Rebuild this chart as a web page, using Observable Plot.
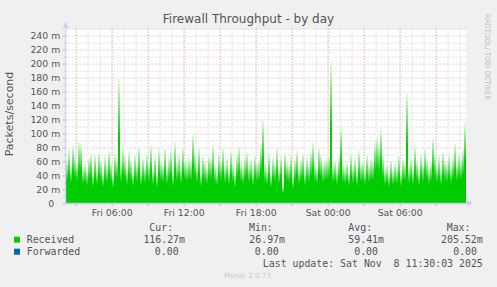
<!DOCTYPE html>
<html><head><meta charset="utf-8">
<script src="https://cdn.jsdelivr.net/npm/d3@7"></script>
<script src="https://cdn.jsdelivr.net/npm/@observablehq/plot@0.6"></script>
<style>
html,body{margin:0;padding:0;background:#f0f0f0;}
#wrap{position:relative;width:497px;height:287px;overflow:hidden;background:#f0f0f0;}
#wrap svg{position:absolute;left:0;top:0;}
</style></head><body><div id="wrap"></div>
<script>
// Received packets/second (milli), one value per 10-minute sample, Fri 02:10 -> Sat 11:30 (UTC)
const received = [
  62, 78, 55, 84, 70, 60, 88, 86, 52, 58,
  48, 66, 72, 45, 70, 50, 74, 62, 44, 68,
  55, 76, 60, 42, 72, 65, 180, 58, 80, 68,
  50, 75, 62, 46, 70, 58, 82, 48, 66, 54,
  72, 60, 84, 50, 68, 44, 78, 62, 56, 80,
  52, 66, 76, 48, 88, 60, 70, 54, 82, 64,
  58, 66, 62, 100, 74, 56, 80, 46, 68, 60,
  52, 70, 64, 84, 56, 48, 72, 62, 80, 54,
  66, 50, 76, 58, 44, 70, 82, 60, 52, 68,
  74, 56, 64, 48, 70, 60, 62, 85, 120, 58,
  50, 72, 44, 66, 58, 80, 52, 68, 27, 74,
  60, 56, 70, 40, 64, 76, 52, 62, 72, 48,
  66, 58, 74, 88, 60, 52, 80, 70, 56, 62,
  64, 70, 205.52, 56, 62, 50, 68, 112, 58, 52,
  60, 46, 72, 54, 66, 48, 76, 58, 62, 50,
  70, 56, 64, 62, 88, 96, 84, 108, 70, 50,
  56, 44, 62, 48, 58, 52, 70, 46, 64, 60,
  160, 54, 66, 50, 83, 62, 48, 70, 58, 79,
  64, 52, 60, 95, 72, 56, 68, 50, 74, 62,
  58, 70, 54, 66, 86, 60, 72, 64, 78, 116.27
];
const startTime = Date.UTC(2025, 10, 7, 2, 10);
const endTime = Date.UTC(2025, 10, 8, 11, 30);
const stepMs = 10 * 60 * 1000;
const yTicks = [0, 20, 40, 60, 80, 100, 120, 140, 160, 180, 200, 220, 240];
const yMinorTicks = [10, 30, 50, 70, 90, 110, 130, 150, 170, 190, 210, 230, 250];
const yMax = 250;

const titleText = "Firewall Throughput - by day";
const yLabelText = "Packets/second";
const watermarkText = "RRDTOOL/ TOBI OETIKER";
const seriesNames = ["Received", "Forwarded"];
const seriesColors = ["#00cc00", "#0066b3"];
const statHeaders = ["Cur:", "Min:", "Avg:", "Max:"];
const receivedStats = ["116.27m", "26.97m", "59.41m", "205.52m"];
const forwardedStats = ["0.00", "0.00", "0.00", "0.00"];
const lastUpdateText = "Last update: Sat Nov  8 11:30:03 2025";
const footerText = "Munin 2.0.73";

const data = received.map((v, i) => ({
  t0: new Date(startTime + i * stepMs),
  t1: new Date(startTime + (i + 1) * stepMs),
  v
}));

const W = 497, H = 287, mL = 65.7, mR = 31.3, mT = 28.7, mB = 83.7;
const axisBlue = "#c6cdf5";
const minorGrid = "#c8c8c8";
const majorGrid = "#e3a6a6";
const textCol = "#555";

function defs() {
  const d = d3.create("svg:defs");
  const g = d.append("linearGradient").attr("id", "fade")
    .attr("x1", 0).attr("y1", 0).attr("x2", 0).attr("y2", 1);
  g.append("stop").attr("offset", 0).attr("stop-color", "#eefcee");
  g.append("stop").attr("offset", 0.3).attr("stop-color", "#5edc5e");
  g.append("stop").attr("offset", 0.48).attr("stop-color", "#00cc00");
  g.append("stop").attr("offset", 1).attr("stop-color", "#00cc00");
  return d.node();
}

const plot = Plot.plot({
  width: W, height: H,
  marginLeft: mL, marginRight: mR, marginTop: mT, marginBottom: mB,
  style: {background: "transparent", fontFamily: "DejaVu Sans", fontSize: "9.3px", color: textCol},
  x: {type: "utc", domain: [new Date(startTime), new Date(endTime)], label: null},
  y: {domain: [0, yMax], label: null},
  marks: [
    defs,
    Plot.frame({fill: "white", stroke: null}),
    Plot.gridX({ticks: d3.utcHour.every(1), stroke: minorGrid, strokeOpacity: 1, strokeDasharray: "1,2"}),
    Plot.gridX({ticks: d3.utcHour.every(3), stroke: majorGrid, strokeOpacity: 1, strokeDasharray: "1,2"}),
    Plot.gridY(yMinorTicks, {stroke: minorGrid, strokeOpacity: 1, strokeDasharray: "1,2"}),
    Plot.gridY(yTicks.filter(d => d > 0), {stroke: majorGrid, strokeOpacity: 1, strokeDasharray: "1,2"}),
    Plot.rectY(data, {x1: "t0", x2: "t1", y: "v", fill: "url(#fade)", shapeRendering: "crispEdges"}),
    Plot.axisY(yTicks, {tickSize: 3, tickPadding: 3, stroke: majorGrid, fill: textCol, label: null,
      tickFormat: d => d === 0 ? "0\u2007" : d + " m"}),
    Plot.axisY(yMinorTicks.filter(d => d < yMax), {tickSize: 2, stroke: minorGrid, label: null, tickFormat: () => ""}),
    Plot.axisX({ticks: d3.utcHour.every(3), tickSize: 3, stroke: majorGrid, label: null, tickFormat: () => ""}),
    Plot.axisX({ticks: d3.utcHour.every(6), tickSize: 0, tickPadding: 5.5, fill: textCol, label: null,
      tickFormat: d3.utcFormat("%a %H:%M")}),
    Plot.ruleY([0], {stroke: axisBlue}),
  ]
});

const wrap = document.getElementById("wrap");
wrap.appendChild(plot);

// overlay: titles, legend, axis arrows
const xs = plot.scale("x"), ys = plot.scale("y");
const x0 = xs.apply(new Date(startTime)), x1 = xs.apply(new Date(endTime));
const y0 = ys.apply(0), yTop = ys.apply(yMax);
const ov = d3.select(wrap).append("svg").attr("width", W).attr("height", H)
  .style("pointer-events", "none");

ov.append("line").attr("x1", x0).attr("x2", x0).attr("y1", yTop - 6).attr("y2", y0)
  .attr("stroke", axisBlue);
ov.append("path").attr("d", `M${x0 - 3},${yTop - 1}L${x0 + 3},${yTop - 1}L${x0},${yTop - 7}Z`).attr("fill", axisBlue);
ov.append("line").attr("x1", x0).attr("x2", x1 + 6).attr("y1", y0).attr("y2", y0).attr("stroke", axisBlue);
ov.append("path").attr("d", `M${x1 + 1},${y0 - 3}L${x1 + 1},${y0 + 3}L${x1 + 7},${y0}Z`).attr("fill", axisBlue);

ov.append("text").text(titleText).attr("x", 248.5).attr("y", 23)
  .attr("text-anchor", "middle").attr("font-family", "DejaVu Sans").attr("font-size", 12).attr("fill", textCol);
ov.append("text").text(yLabelText).attr("transform", "translate(12.7,114) rotate(-90)")
  .attr("text-anchor", "middle").attr("font-family", "DejaVu Sans").attr("font-size", 11).attr("fill", textCol);
ov.append("text").text(watermarkText).attr("transform", "translate(485,14) rotate(90)")
  .attr("font-family", "DejaVu Sans").attr("font-size", 7.5).attr("fill", "#c0c0c0")
  .attr("textLength", 86).attr("lengthAdjust", "spacingAndGlyphs");

const mono = "DejaVu Sans Mono", monoSize = 9.9;
const headerX = [149.3, 249, 348.3, 446.7];
const valueEndX = [185, 285, 384, 482.7];
statHeaders.forEach((h, i) => {
  ov.append("text").text(h).attr("x", headerX[i]).attr("y", 231)
    .attr("font-family", mono).attr("font-size", monoSize).attr("fill", textCol);
});
const rows = [receivedStats, forwardedStats];
const rowBase = [243.3, 255.3];
const forwardEndX = [178.6, 278.6, 378, 477];
seriesNames.forEach((name, r) => {
  ov.append("rect").attr("x", 14).attr("y", rowBase[r] - 6.6).attr("width", 6).attr("height", 6)
    .attr("fill", seriesColors[r]);
  ov.append("text").text(name).attr("x", 26.7).attr("y", rowBase[r])
    .attr("font-family", mono).attr("font-size", monoSize).attr("fill", textCol);
  rows[r].forEach((s, i) => {
    ov.append("text").text(s).attr("x", r === 0 ? valueEndX[i] : forwardEndX[i]).attr("y", rowBase[r])
      .attr("text-anchor", "end").attr("font-family", mono).attr("font-size", monoSize).attr("fill", textCol);
  });
});
ov.append("text").text(lastUpdateText).attr("x", 482.8).attr("y", 267.3)
  .attr("text-anchor", "end").attr("font-family", mono).attr("font-size", monoSize).attr("fill", textCol)
  .style("white-space", "pre");
ov.append("text").text(footerText).attr("x", 247.5).attr("y", 278.3)
  .attr("text-anchor", "middle").attr("font-family", "DejaVu Sans").attr("font-size", 7.2).attr("fill", "#c8c8c8");
</script>
</body></html>
